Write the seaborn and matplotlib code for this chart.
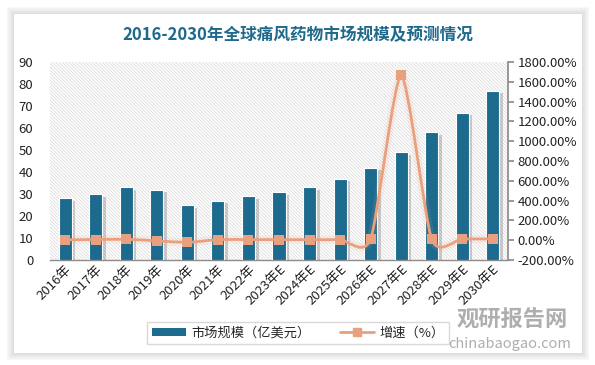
import numpy as np
import pandas as pd
import matplotlib
matplotlib.use('Agg')
import matplotlib.pyplot as plt
import seaborn as sns
from matplotlib.patches import Rectangle, PathPatch
from matplotlib.path import Path
from matplotlib.lines import Line2D
from matplotlib import patheffects as pe
from matplotlib.ticker import FuncFormatter, MultipleLocator

# data
years = ['2016年', '2017年', '2018年', '2019年', '2020年', '2021年', '2022年',
         '2023年E', '2024年E', '2025年E', '2026年E', '2027年E', '2028年E',
         '2029年E', '2030年E']
market_size = [28, 30, 33, 32, 25, 27, 29, 31, 33, 37, 42, 49, 58, 67, 77]
growth = [3, 7, 9, -6, -22, 6, 6, 6, 5, 6, 10, 1666, 10, 12, 13]

title = '2016-2030年全球痛风药物市场规模及预测情况'
bar_label = '市场规模（亿美元）'
line_label = '增速（%）'

BAR_C = '#1c6b8e'
LINE_C = '#e9a07f'

sns.set_theme(style='white')
plt.rcParams['font.family'] = ['Noto Sans CJK SC', 'DejaVu Sans']
plt.rcParams['hatch.linewidth'] = 0.5

df = pd.DataFrame({'year': years, 'size': market_size, 'growth': growth})

fig = plt.figure(figsize=(5.95, 3.65), dpi=100)
fig.patch.set_facecolor('white')

# card with soft shadow
W, H = 595, 365
for i, a in enumerate([0.05, 0.05, 0.05, 0.06, 0.07]):
    g = 7 - i * 1.4
    fig.patches.append(Rectangle(((14 - g) / W, (365 - 353 - g) / H),
                                 (568 + 2 * g) / W, (339 + 2 * g) / H,
                                 transform=fig.transFigure, facecolor='#808080',
                                 alpha=a, edgecolor='none', zorder=0))
fig.patches.append(Rectangle((14 / W, (365 - 353) / H), 568 / W, 339 / H,
                             transform=fig.transFigure, facecolor='white',
                             edgecolor='none', zorder=1))

ax = fig.add_axes([50 / W, (365 - 260) / H, 458 / W, 198 / H])
ax.set_zorder(2)
ax.patch.set_alpha(0)
ax.add_patch(Rectangle((0, 0), 1, 1, transform=ax.transAxes, facecolor='white',
                       edgecolor='#d6d6d6', linewidth=0, hatch='\\' * 10, zorder=0))

sns.barplot(data=df, x='year', y='size', color=BAR_C, width=0.43, ax=ax,
            saturation=1, edgecolor='white', linewidth=0.8, zorder=3)
for p in ax.patches[1:]:
    p.set_path_effects([pe.SimplePatchShadow(offset=(2.5, -2), shadow_rgbFace='#444444', alpha=0.25),
                        pe.Normal()])

ax.set_ylim(0, 90)
ax.set_xlim(-0.5, len(years) - 0.5)
ax.yaxis.set_major_locator(MultipleLocator(10))
ax.set_xlabel('')
ax.set_ylabel('')
for s in ['top', 'right', 'left']:
    ax.spines[s].set_visible(False)
ax.spines['bottom'].set_color('#8c8c8c')
ax.spines['bottom'].set_linewidth(1)
ax.tick_params(axis='y', length=0, labelsize=9.5, pad=12, colors='#222222')
ax.tick_params(axis='x', length=0, labelsize=9.5, pad=2, colors='#222222')
for lab in ax.get_xticklabels():
    lab.set_rotation(45)
    lab.set_ha('right')
    lab.set_rotation_mode('anchor')

ax2 = ax.twinx()
ax2.set_ylim(-200, 1800)
ax2.yaxis.set_major_locator(MultipleLocator(200))
ax2.yaxis.set_major_formatter(FuncFormatter(lambda v, _: f'{v:.2f}%'))
for s in ['top', 'left', 'bottom']:
    ax2.spines[s].set_visible(False)
ax2.spines['right'].set_color('#8c8c8c')
ax2.tick_params(axis='y', length=4, labelsize=9.5, pad=3, colors='#222222')
ax2.tick_params(axis='y', color='#8c8c8c')

# smooth line (Excel-like) through the growth points, computed in pixel-ish space
xs = np.arange(len(growth), dtype=float)
ys = np.array(growth, dtype=float)
sx, sy = 30.5, 10.1
px, py = xs * sx, ys / sy
k = 0.11
verts = [(px[0], py[0])]
codes = [Path.MOVETO]
n = len(px)
for i in range(n - 1):
    p0 = np.array([px[max(i - 1, 0)], py[max(i - 1, 0)]])
    p1 = np.array([px[i], py[i]])
    p2 = np.array([px[i + 1], py[i + 1]])
    p3 = np.array([px[min(i + 2, n - 1)], py[min(i + 2, n - 1)]])
    c1 = p1 + (p2 - p0) * k
    c2 = p2 - (p3 - p1) * k
    verts += [tuple(c1), tuple(c2), tuple(p2)]
    codes += [Path.CURVE4] * 3
verts = [(vx / sx, vy * sy) for vx, vy in verts]
ax2.add_patch(PathPatch(Path(verts, codes), facecolor='none', edgecolor=LINE_C,
                        linewidth=2, zorder=4,
                        path_effects=[pe.Stroke(linewidth=6, foreground=LINE_C, alpha=0.12), pe.Normal()]))
sns.scatterplot(x=xs, y=ys, marker='s', s=55, color=LINE_C, edgecolor=LINE_C,
                linewidth=0, ax=ax2, zorder=5, legend=False)

# title
fig.text(0.5, (365 - 35) / H, title, ha='center', va='center', fontsize=12,
         fontweight='bold', color='#1f6a8c')

# legend
handles = [Rectangle((0, 0), 1, 1, facecolor=BAR_C, edgecolor='none'),
           Line2D([0], [0], color=LINE_C, lw=2, marker='s', markersize=6)]
leg = fig.legend(handles, [bar_label, line_label], loc='center',
                 bbox_to_anchor=(298 / W, (365 - 333) / H), ncol=2, frameon=True,
                 fontsize=9.5, handlelength=2.6, handleheight=0.6, columnspacing=2.2,
                 handletextpad=0.4, borderpad=0.35, fancybox=False)
leg.get_frame().set_edgecolor('#d0d0d0')
leg.get_frame().set_linewidth(1)
leg.set_zorder(5)

# watermark
fig.text(512 / W, (365 - 320) / H, '观研报告网', ha='center', va='center', fontsize=16,
         fontweight='bold', color='#9a9a9a', alpha=0.8, zorder=6)
fig.text(510 / W, (365 - 344) / H, 'chinabaogao.com', ha='center', va='center',
         fontsize=10.5, color='#9a9a9a', alpha=0.8, zorder=6)

fig.savefig('out.png', dpi=100)
